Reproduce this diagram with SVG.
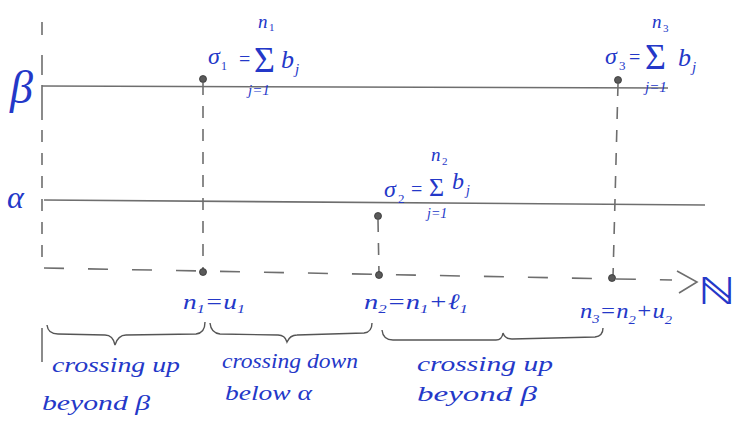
<svg xmlns="http://www.w3.org/2000/svg" width="738" height="429" viewBox="0 0 738 429">
<style>
.ln{stroke:#6e6e6e;stroke-width:1.6;fill:none}
.dl{stroke:#6e6e6e;stroke-width:1.6;fill:none;stroke-dasharray:12 11}
.ax{stroke:#6e6e6e;stroke-width:1.6;fill:none;stroke-dasharray:20 24}
.br{stroke:#555;stroke-width:1.4;fill:none}
.pt{fill:#5a5a5a;stroke:#333;stroke-width:0.8}
.t{font-family:"Liberation Serif",serif;font-style:italic;fill:#2438c8}
.m{font-family:"Liberation Serif",serif;fill:#2438c8}
</style>
<rect width="738" height="429" fill="#fff"/>
<g id="axes">
<path class="ln" d="M42,22 L42,35 M42,55 L42,75 M42,85 L42,120" />
<path class="dl" d="M42,130 L42,268"/>
<path class="ln" d="M42,328 L42,362"/>
<path class="ax" d="M44,268 L672,280"/>
<path class="ln" d="M677,271 L697,282 L679,293"/>
<text class="m" x="698" y="304" font-size="38" textLength="38" lengthAdjust="spacingAndGlyphs" font-family="DejaVu Sans">ℕ</text>
</g>
<g id="beta-level">
<line class="ln" x1="42" y1="86" x2="668" y2="88"/>
<text class="t" x="10" y="103" font-size="46">β</text>
</g>
<g id="alpha-level">
<line class="ln" x1="44" y1="200" x2="705" y2="205"/>
<text class="t" x="7" y="208" font-size="32">α</text>
</g>
<g id="connectors">
<line class="dl" x1="203" y1="83" x2="203" y2="271"/>
<line class="dl" x1="378" y1="220" x2="379" y2="274"/>
<line class="dl" x1="618" y1="84" x2="613" y2="277"/>
</g>
<g id="sigma1">
<circle class="pt" cx="203" cy="79" r="3.5"/>
<text class="t" x="208" y="64" font-size="24">σ</text>
<text class="m" x="221" y="70" font-size="12">1</text>
<text class="m" x="239" y="66" font-size="20">=</text>
<text class="m" x="254" y="72" font-size="36">Σ</text>
<text class="t" x="258" y="28" font-size="19">n</text>
<text class="m" x="269" y="31" font-size="11">1</text>
<text class="t" x="281" y="68" font-size="26">b</text>
<text class="t" x="295" y="74" font-size="15">j</text>
<text class="t" x="248" y="95" font-size="15">j=1</text>
</g>
<g id="sigma2">
<circle class="pt" cx="378" cy="216" r="3.5"/>
<text class="t" x="384" y="197" font-size="24">σ</text>
<text class="m" x="398" y="203" font-size="13">2</text>
<text class="m" x="411" y="196" font-size="20">=</text>
<text class="m" x="429" y="196" font-size="26">Σ</text>
<text class="t" x="431" y="161" font-size="19">n</text>
<text class="m" x="442" y="165" font-size="11">2</text>
<text class="t" x="452" y="189" font-size="24">b</text>
<text class="t" x="466" y="195" font-size="14">j</text>
<text class="t" x="427" y="218" font-size="14">j=1</text>
</g>
<g id="sigma3">
<circle class="pt" cx="618" cy="80" r="3.5"/>
<text class="t" x="605" y="64" font-size="24">σ</text>
<text class="m" x="619" y="70" font-size="13">3</text>
<text class="m" x="629" y="64" font-size="20">=</text>
<text class="m" x="645" y="69" font-size="36">Σ</text>
<text class="t" x="652" y="28" font-size="19">n</text>
<text class="m" x="663" y="32" font-size="11">3</text>
<text class="t" x="678" y="66" font-size="26">b</text>
<text class="t" x="692" y="72" font-size="15">j</text>
<text class="t" x="645" y="92" font-size="15">j=1</text>
</g>
<g id="n1">
<circle class="pt" cx="203" cy="272" r="3.5"/>
<text class="t" x="183" y="309" font-size="22" textLength="62" lengthAdjust="spacingAndGlyphs">n<tspan font-size="13" dy="4">1</tspan><tspan dy="-4">=u</tspan><tspan font-size="13" dy="4">1</tspan></text>
</g>
<g id="n2">
<circle class="pt" cx="379" cy="275" r="3.5"/>
<text class="t" x="364" y="309" font-size="22" textLength="104" lengthAdjust="spacingAndGlyphs">n<tspan font-size="13" dy="4">2</tspan><tspan dy="-4">=n</tspan><tspan font-size="13" dy="4">1</tspan><tspan dy="-4">+ℓ</tspan><tspan font-size="13" dy="4">1</tspan></text>
</g>
<g id="n3">
<circle class="pt" cx="612" cy="278" r="3.5"/>
<text class="t" x="580" y="318" font-size="22" textLength="92" lengthAdjust="spacingAndGlyphs">n<tspan font-size="13" dy="5">3</tspan><tspan dy="-5">=n</tspan><tspan font-size="13" dy="6">2</tspan><tspan dy="-6">+u</tspan><tspan font-size="13" dy="6">2</tspan></text>
</g>
<g id="phase1">
<path class="br" d="M47,325 Q48,334 58,334 L105,335 Q113,335 115,345 Q118,335 126,335 L196,334 Q205,333 205,322"/>
<text class="t" x="52" y="372" font-size="22" textLength="128" lengthAdjust="spacingAndGlyphs">crossing up</text>
<text class="t" x="42" y="410" font-size="22" textLength="108" lengthAdjust="spacingAndGlyphs">beyond β</text>
</g>
<g id="phase2">
<path class="br" d="M210,323 Q211,333 220,334 L278,335 Q285,335 287,342 Q290,335 297,335 L364,333 Q372,332 372,323"/>
<text class="t" x="222" y="368" font-size="22" textLength="136" lengthAdjust="spacingAndGlyphs">crossing down</text>
<text class="t" x="225" y="400" font-size="22" textLength="87" lengthAdjust="spacingAndGlyphs">below α</text>
</g>
<g id="phase3">
<path class="br" d="M382,330 Q383,340 393,340 L496,340 Q502,340 503,333 Q505,339 512,339 L595,337 Q603,336 603,328"/>
<text class="t" x="417" y="371" font-size="22" textLength="136" lengthAdjust="spacingAndGlyphs">crossing up</text>
<text class="t" x="417" y="401" font-size="22" textLength="120" lengthAdjust="spacingAndGlyphs">beyond β</text>
</g>
</svg>
